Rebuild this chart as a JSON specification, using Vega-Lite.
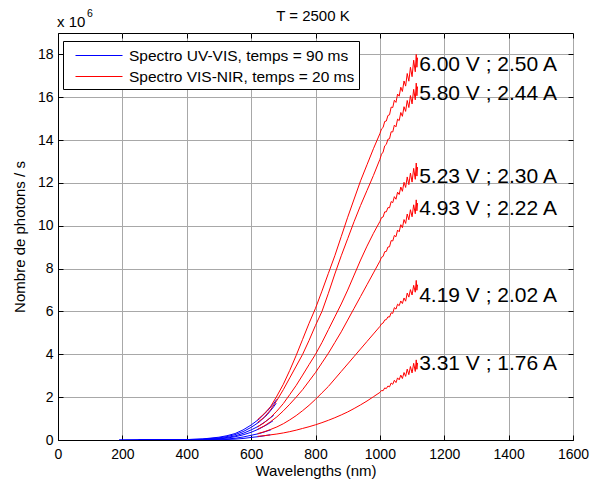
{
"$schema":"https://vega.github.io/schema/vega-lite/v6.json",
"width":515,"height":407,
"autosize":{"type":"none"},
"padding":{"left":58,"top":33,"right":17,"bottom":44},
"background":"white",
"config":{
"font":"Liberation Sans",
"view":{"stroke":"black","strokeWidth":1},
"axis":{"gridColor":"#a8a8a8","gridOpacity":1,"gridWidth":1,"domainColor":"black","tickColor":"black","labelColor":"black","titleColor":"black","labelFontSize":14,"titleFontSize":15,"titleFontWeight":"normal","labelFont":"Liberation Sans","titleFont":"Liberation Sans","tickSize":-5,"format":"d"},
"legend":{"strokeColor":"black","fillColor":"white","padding":4,"labelFontSize":15.5,"labelFont":"Liberation Sans","labelColor":"black","labelLimit":400,"symbolType":"M-1,0H3.7","symbolSize":400,"symbolStrokeWidth":1,"labelOffset":33,"rowPadding":2,"symbolOffset":8}
},
"resolve":{"axis":{"x":"independent","y":"independent"}},
"layer":[
{
"data":{"values":[
{"s":"U","c":"6.00","x":190,"y":0},{"s":"U","c":"6.00","x":250,"y":0.01},{"s":"U","c":"6.00","x":300,"y":0.01},{"s":"U","c":"6.00","x":350,"y":0.01},{"s":"U","c":"6.00","x":400,"y":0.02},{"s":"U","c":"6.00","x":450,"y":0.05},{"s":"U","c":"6.00","x":500,"y":0.13},{"s":"U","c":"6.00","x":525,"y":0.2},{"s":"U","c":"6.00","x":550,"y":0.3},{"s":"U","c":"6.00","x":575,"y":0.47},{"s":"U","c":"6.00","x":600,"y":0.7},{"s":"U","c":"6.00","x":625,"y":0.98},{"s":"U","c":"6.00","x":650,"y":1.35},{"s":"U","c":"6.00","x":670,"y":1.7},{"s":"U","c":"6.00","x":680,"y":1.9},
{"s":"U","c":"5.80","x":190,"y":0},{"s":"U","c":"5.80","x":250,"y":0.01},{"s":"U","c":"5.80","x":300,"y":0.01},{"s":"U","c":"5.80","x":350,"y":0.01},{"s":"U","c":"5.80","x":400,"y":0.02},{"s":"U","c":"5.80","x":450,"y":0.04},{"s":"U","c":"5.80","x":500,"y":0.1},{"s":"U","c":"5.80","x":525,"y":0.16},{"s":"U","c":"5.80","x":550,"y":0.25},{"s":"U","c":"5.80","x":575,"y":0.39},{"s":"U","c":"5.80","x":600,"y":0.59},{"s":"U","c":"5.80","x":625,"y":0.84},{"s":"U","c":"5.80","x":650,"y":1.18},{"s":"U","c":"5.80","x":670,"y":1.55},{"s":"U","c":"5.80","x":678,"y":1.72},
{"s":"U","c":"5.23","x":250,"y":0.01},{"s":"U","c":"5.23","x":300,"y":0.01},{"s":"U","c":"5.23","x":350,"y":0.01},{"s":"U","c":"5.23","x":400,"y":0.01},{"s":"U","c":"5.23","x":450,"y":0.03},{"s":"U","c":"5.23","x":500,"y":0.07},{"s":"U","c":"5.23","x":525,"y":0.12},{"s":"U","c":"5.23","x":550,"y":0.19},{"s":"U","c":"5.23","x":575,"y":0.31},{"s":"U","c":"5.23","x":600,"y":0.47},{"s":"U","c":"5.23","x":625,"y":0.66},{"s":"U","c":"5.23","x":650,"y":0.92},{"s":"U","c":"5.23","x":670,"y":1.15},
{"s":"U","c":"4.93","x":250,"y":0},{"s":"U","c":"4.93","x":300,"y":0.01},{"s":"U","c":"4.93","x":350,"y":0.01},{"s":"U","c":"4.93","x":400,"y":0.01},{"s":"U","c":"4.93","x":450,"y":0.02},{"s":"U","c":"4.93","x":500,"y":0.05},{"s":"U","c":"4.93","x":525,"y":0.09},{"s":"U","c":"4.93","x":550,"y":0.15},{"s":"U","c":"4.93","x":575,"y":0.24},{"s":"U","c":"4.93","x":600,"y":0.36},{"s":"U","c":"4.93","x":625,"y":0.52},{"s":"U","c":"4.93","x":650,"y":0.72},{"s":"U","c":"4.93","x":668,"y":0.9},
{"s":"U","c":"4.19","x":250,"y":0},{"s":"U","c":"4.19","x":300,"y":0},{"s":"U","c":"4.19","x":350,"y":0.01},{"s":"U","c":"4.19","x":400,"y":0.01},{"s":"U","c":"4.19","x":450,"y":0.01},{"s":"U","c":"4.19","x":500,"y":0.03},{"s":"U","c":"4.19","x":525,"y":0.05},{"s":"U","c":"4.19","x":550,"y":0.08},{"s":"U","c":"4.19","x":575,"y":0.14},{"s":"U","c":"4.19","x":600,"y":0.22},{"s":"U","c":"4.19","x":625,"y":0.3},{"s":"U","c":"4.19","x":650,"y":0.42},{"s":"U","c":"4.19","x":662,"y":0.48},
{"s":"U","c":"3.31","x":250,"y":0},{"s":"U","c":"3.31","x":300,"y":0},{"s":"U","c":"3.31","x":350,"y":0},{"s":"U","c":"3.31","x":400,"y":0},{"s":"U","c":"3.31","x":450,"y":0.01},{"s":"U","c":"3.31","x":500,"y":0.01},{"s":"U","c":"3.31","x":550,"y":0.04},{"s":"U","c":"3.31","x":575,"y":0.07},{"s":"U","c":"3.31","x":600,"y":0.12},{"s":"U","c":"3.31","x":625,"y":0.16},{"s":"U","c":"3.31","x":650,"y":0.22},{"s":"U","c":"3.31","x":660,"y":0.24},

{"s":"N","c":"6.00","x":620,"y":0.95},{"s":"N","c":"6.00","x":640,"y":1.22},{"s":"N","c":"6.00","x":660,"y":1.55},{"s":"N","c":"6.00","x":680,"y":2.05},{"s":"N","c":"6.00","x":700,"y":2.6},{"s":"N","c":"6.00","x":720,"y":3.25},{"s":"N","c":"6.00","x":740,"y":3.95},{"s":"N","c":"6.00","x":760,"y":4.7},{"s":"N","c":"6.00","x":780,"y":5.45},{"s":"N","c":"6.00","x":800,"y":6.15},{"s":"N","c":"6.00","x":820,"y":6.95},{"s":"N","c":"6.00","x":840,"y":7.78},{"s":"N","c":"6.00","x":860,"y":8.6},{"s":"N","c":"6.00","x":880,"y":9.5},{"s":"N","c":"6.00","x":900,"y":10.4},{"s":"N","c":"6.00","x":920,"y":11.25},{"s":"N","c":"6.00","x":940,"y":12.1},{"s":"N","c":"6.00","x":960,"y":12.85},{"s":"N","c":"6.00","x":980,"y":13.6},
{"s":"N","c":"6.00","x":1000,"y":14.3},{"s":"N","c":"6.00","x":1005,"y":14.52},{"s":"N","c":"6.00","x":1010,"y":14.59},{"s":"N","c":"6.00","x":1015,"y":14.87},{"s":"N","c":"6.00","x":1020,"y":14.89},{"s":"N","c":"6.00","x":1025,"y":15.15},{"s":"N","c":"6.00","x":1030,"y":15.18},{"s":"N","c":"6.00","x":1035,"y":15.54},{"s":"N","c":"6.00","x":1040,"y":15.52},{"s":"N","c":"6.00","x":1045,"y":15.86},{"s":"N","c":"6.00","x":1050,"y":15.76},{"s":"N","c":"6.00","x":1055,"y":16.15},{"s":"N","c":"6.00","x":1060,"y":16.05},{"s":"N","c":"6.00","x":1065,"y":16.47},{"s":"N","c":"6.00","x":1070,"y":16.27},{"s":"N","c":"6.00","x":1075,"y":16.76},{"s":"N","c":"6.00","x":1080,"y":16.52},{"s":"N","c":"6.00","x":1085,"y":17.11},{"s":"N","c":"6.00","x":1090,"y":16.75},{"s":"N","c":"6.00","x":1095,"y":17.4},{"s":"N","c":"6.00","x":1100,"y":16.96},{"s":"N","c":"6.00","x":1105,"y":17.73},{"s":"N","c":"6.00","x":1110,"y":17.19},{"s":"N","c":"6.00","x":1113,"y":18.0},{"s":"N","c":"6.00","x":1115,"y":17.4},{"s":"N","c":"6.00","x":1117,"y":17.85},

{"s":"N","c":"5.80","x":620,"y":0.82},{"s":"N","c":"5.80","x":640,"y":1.05},{"s":"N","c":"5.80","x":660,"y":1.4},{"s":"N","c":"5.80","x":680,"y":1.85},{"s":"N","c":"5.80","x":700,"y":2.35},{"s":"N","c":"5.80","x":720,"y":2.9},{"s":"N","c":"5.80","x":740,"y":3.45},{"s":"N","c":"5.80","x":760,"y":4.0},{"s":"N","c":"5.80","x":780,"y":4.65},{"s":"N","c":"5.80","x":800,"y":5.35},{"s":"N","c":"5.80","x":820,"y":6.0},{"s":"N","c":"5.80","x":840,"y":6.85},{"s":"N","c":"5.80","x":860,"y":7.75},{"s":"N","c":"5.80","x":880,"y":8.6},{"s":"N","c":"5.80","x":900,"y":9.4},{"s":"N","c":"5.80","x":920,"y":10.2},{"s":"N","c":"5.80","x":940,"y":10.95},{"s":"N","c":"5.80","x":960,"y":11.65},{"s":"N","c":"5.80","x":980,"y":12.35},
{"s":"N","c":"5.80","x":1000,"y":13.1},{"s":"N","c":"5.80","x":1005,"y":13.34},{"s":"N","c":"5.80","x":1010,"y":13.44},{"s":"N","c":"5.80","x":1015,"y":13.73},{"s":"N","c":"5.80","x":1020,"y":13.8},{"s":"N","c":"5.80","x":1025,"y":14.04},{"s":"N","c":"5.80","x":1030,"y":14.06},{"s":"N","c":"5.80","x":1035,"y":14.39},{"s":"N","c":"5.80","x":1040,"y":14.38},{"s":"N","c":"5.80","x":1045,"y":14.7},{"s":"N","c":"5.80","x":1050,"y":14.62},{"s":"N","c":"5.80","x":1055,"y":14.98},{"s":"N","c":"5.80","x":1060,"y":14.91},{"s":"N","c":"5.80","x":1065,"y":15.29},{"s":"N","c":"5.80","x":1070,"y":15.11},{"s":"N","c":"5.80","x":1075,"y":15.56},{"s":"N","c":"5.80","x":1080,"y":15.34},{"s":"N","c":"5.80","x":1085,"y":15.85},{"s":"N","c":"5.80","x":1090,"y":15.52},{"s":"N","c":"5.80","x":1095,"y":16.08},{"s":"N","c":"5.80","x":1100,"y":15.69},{"s":"N","c":"5.80","x":1105,"y":16.37},{"s":"N","c":"5.80","x":1110,"y":15.88},{"s":"N","c":"5.80","x":1113,"y":16.66},{"s":"N","c":"5.80","x":1115,"y":16.07},{"s":"N","c":"5.80","x":1117,"y":16.5},

{"s":"N","c":"5.23","x":620,"y":0.62},{"s":"N","c":"5.23","x":640,"y":0.8},{"s":"N","c":"5.23","x":660,"y":1.05},{"s":"N","c":"5.23","x":680,"y":1.35},{"s":"N","c":"5.23","x":700,"y":1.7},{"s":"N","c":"5.23","x":720,"y":2.12},{"s":"N","c":"5.23","x":740,"y":2.55},{"s":"N","c":"5.23","x":760,"y":3.03},{"s":"N","c":"5.23","x":780,"y":3.52},{"s":"N","c":"5.23","x":800,"y":4.0},{"s":"N","c":"5.23","x":820,"y":4.55},{"s":"N","c":"5.23","x":840,"y":5.15},{"s":"N","c":"5.23","x":860,"y":5.75},{"s":"N","c":"5.23","x":880,"y":6.35},{"s":"N","c":"5.23","x":900,"y":7.0},{"s":"N","c":"5.23","x":920,"y":7.7},{"s":"N","c":"5.23","x":940,"y":8.4},{"s":"N","c":"5.23","x":960,"y":9.05},{"s":"N","c":"5.23","x":980,"y":9.65},
{"s":"N","c":"5.23","x":1000,"y":10.2},{"s":"N","c":"5.23","x":1005,"y":10.38},{"s":"N","c":"5.23","x":1010,"y":10.41},{"s":"N","c":"5.23","x":1015,"y":10.65},{"s":"N","c":"5.23","x":1020,"y":10.65},{"s":"N","c":"5.23","x":1025,"y":10.85},{"s":"N","c":"5.23","x":1030,"y":10.84},{"s":"N","c":"5.23","x":1035,"y":11.13},{"s":"N","c":"5.23","x":1040,"y":11.08},{"s":"N","c":"5.23","x":1045,"y":11.36},{"s":"N","c":"5.23","x":1050,"y":11.24},{"s":"N","c":"5.23","x":1055,"y":11.57},{"s":"N","c":"5.23","x":1060,"y":11.46},{"s":"N","c":"5.23","x":1065,"y":11.81},{"s":"N","c":"5.23","x":1070,"y":11.61},{"s":"N","c":"5.23","x":1075,"y":12.03},{"s":"N","c":"5.23","x":1080,"y":11.79},{"s":"N","c":"5.23","x":1085,"y":12.28},{"s":"N","c":"5.23","x":1090,"y":11.92},{"s":"N","c":"5.23","x":1095,"y":12.46},{"s":"N","c":"5.23","x":1100,"y":12.04},{"s":"N","c":"5.23","x":1105,"y":12.68},{"s":"N","c":"5.23","x":1110,"y":12.17},{"s":"N","c":"5.23","x":1113,"y":12.93},{"s":"N","c":"5.23","x":1115,"y":12.32},{"s":"N","c":"5.23","x":1117,"y":12.74},

{"s":"N","c":"4.93","x":620,"y":0.5},{"s":"N","c":"4.93","x":640,"y":0.65},{"s":"N","c":"4.93","x":660,"y":0.85},{"s":"N","c":"4.93","x":680,"y":1.08},{"s":"N","c":"4.93","x":700,"y":1.36},{"s":"N","c":"4.93","x":720,"y":1.67},{"s":"N","c":"4.93","x":740,"y":2.0},{"s":"N","c":"4.93","x":760,"y":2.35},{"s":"N","c":"4.93","x":780,"y":2.75},{"s":"N","c":"4.93","x":800,"y":3.15},{"s":"N","c":"4.93","x":820,"y":3.6},{"s":"N","c":"4.93","x":840,"y":4.05},{"s":"N","c":"4.93","x":860,"y":4.55},{"s":"N","c":"4.93","x":880,"y":5.05},{"s":"N","c":"4.93","x":900,"y":5.6},{"s":"N","c":"4.93","x":920,"y":6.15},{"s":"N","c":"4.93","x":940,"y":6.7},{"s":"N","c":"4.93","x":960,"y":7.25},{"s":"N","c":"4.93","x":980,"y":7.8},
{"s":"N","c":"4.93","x":1000,"y":8.35},{"s":"N","c":"4.93","x":1005,"y":8.53},{"s":"N","c":"4.93","x":1010,"y":8.57},{"s":"N","c":"4.93","x":1015,"y":8.79},{"s":"N","c":"4.93","x":1020,"y":8.8},{"s":"N","c":"4.93","x":1025,"y":9.01},{"s":"N","c":"4.93","x":1030,"y":9.02},{"s":"N","c":"4.93","x":1035,"y":9.31},{"s":"N","c":"4.93","x":1040,"y":9.29},{"s":"N","c":"4.93","x":1045,"y":9.55},{"s":"N","c":"4.93","x":1050,"y":9.49},{"s":"N","c":"4.93","x":1055,"y":9.8},{"s":"N","c":"4.93","x":1060,"y":9.72},{"s":"N","c":"4.93","x":1065,"y":10.05},{"s":"N","c":"4.93","x":1070,"y":9.91},{"s":"N","c":"4.93","x":1075,"y":10.29},{"s":"N","c":"4.93","x":1080,"y":10.11},{"s":"N","c":"4.93","x":1085,"y":10.55},{"s":"N","c":"4.93","x":1090,"y":10.28},{"s":"N","c":"4.93","x":1095,"y":10.75},{"s":"N","c":"4.93","x":1100,"y":10.42},{"s":"N","c":"4.93","x":1105,"y":10.98},{"s":"N","c":"4.93","x":1110,"y":10.56},{"s":"N","c":"4.93","x":1113,"y":11.21},{"s":"N","c":"4.93","x":1115,"y":10.7},{"s":"N","c":"4.93","x":1117,"y":11.06},

{"s":"N","c":"4.19","x":620,"y":0.3},{"s":"N","c":"4.19","x":640,"y":0.38},{"s":"N","c":"4.19","x":660,"y":0.49},{"s":"N","c":"4.19","x":680,"y":0.61},{"s":"N","c":"4.19","x":700,"y":0.76},{"s":"N","c":"4.19","x":720,"y":0.94},{"s":"N","c":"4.19","x":740,"y":1.14},{"s":"N","c":"4.19","x":760,"y":1.37},{"s":"N","c":"4.19","x":780,"y":1.62},{"s":"N","c":"4.19","x":800,"y":1.9},{"s":"N","c":"4.19","x":820,"y":2.2},{"s":"N","c":"4.19","x":840,"y":2.5},{"s":"N","c":"4.19","x":860,"y":2.85},{"s":"N","c":"4.19","x":880,"y":3.2},{"s":"N","c":"4.19","x":900,"y":3.55},{"s":"N","c":"4.19","x":920,"y":3.9},{"s":"N","c":"4.19","x":940,"y":4.25},{"s":"N","c":"4.19","x":960,"y":4.6},{"s":"N","c":"4.19","x":980,"y":4.95},
{"s":"N","c":"4.19","x":1000,"y":5.3},{"s":"N","c":"4.19","x":1005,"y":5.42},{"s":"N","c":"4.19","x":1010,"y":5.46},{"s":"N","c":"4.19","x":1015,"y":5.6},{"s":"N","c":"4.19","x":1020,"y":5.62},{"s":"N","c":"4.19","x":1025,"y":5.75},{"s":"N","c":"4.19","x":1030,"y":5.74},{"s":"N","c":"4.19","x":1035,"y":5.94},{"s":"N","c":"4.19","x":1040,"y":5.91},{"s":"N","c":"4.19","x":1045,"y":6.18},{"s":"N","c":"4.19","x":1050,"y":6.11},{"s":"N","c":"4.19","x":1055,"y":6.34},{"s":"N","c":"4.19","x":1060,"y":6.27},{"s":"N","c":"4.19","x":1065,"y":6.49},{"s":"N","c":"4.19","x":1070,"y":6.37},{"s":"N","c":"4.19","x":1075,"y":6.63},{"s":"N","c":"4.19","x":1080,"y":6.48},{"s":"N","c":"4.19","x":1085,"y":6.86},{"s":"N","c":"4.19","x":1090,"y":6.67},{"s":"N","c":"4.19","x":1095,"y":7.02},{"s":"N","c":"4.19","x":1100,"y":6.77},{"s":"N","c":"4.19","x":1105,"y":7.22},{"s":"N","c":"4.19","x":1110,"y":6.9},{"s":"N","c":"4.19","x":1113,"y":7.45},{"s":"N","c":"4.19","x":1115,"y":6.99},{"s":"N","c":"4.19","x":1117,"y":7.25},

{"s":"N","c":"3.31","x":620,"y":0.17},{"s":"N","c":"3.31","x":640,"y":0.2},{"s":"N","c":"3.31","x":660,"y":0.24},{"s":"N","c":"3.31","x":680,"y":0.28},{"s":"N","c":"3.31","x":700,"y":0.33},{"s":"N","c":"3.31","x":720,"y":0.39},{"s":"N","c":"3.31","x":740,"y":0.46},{"s":"N","c":"3.31","x":760,"y":0.54},{"s":"N","c":"3.31","x":780,"y":0.62},{"s":"N","c":"3.31","x":800,"y":0.71},{"s":"N","c":"3.31","x":820,"y":0.81},{"s":"N","c":"3.31","x":840,"y":0.92},{"s":"N","c":"3.31","x":860,"y":1.04},{"s":"N","c":"3.31","x":880,"y":1.17},{"s":"N","c":"3.31","x":900,"y":1.31},{"s":"N","c":"3.31","x":920,"y":1.47},{"s":"N","c":"3.31","x":940,"y":1.64},{"s":"N","c":"3.31","x":960,"y":1.82},{"s":"N","c":"3.31","x":980,"y":2.02},
{"s":"N","c":"3.31","x":1000,"y":2.22},{"s":"N","c":"3.31","x":1005,"y":2.31},{"s":"N","c":"3.31","x":1010,"y":2.3},{"s":"N","c":"3.31","x":1015,"y":2.43},{"s":"N","c":"3.31","x":1020,"y":2.4},{"s":"N","c":"3.31","x":1025,"y":2.52},{"s":"N","c":"3.31","x":1030,"y":2.48},{"s":"N","c":"3.31","x":1035,"y":2.66},{"s":"N","c":"3.31","x":1040,"y":2.6},{"s":"N","c":"3.31","x":1045,"y":2.79},{"s":"N","c":"3.31","x":1050,"y":2.68},{"s":"N","c":"3.31","x":1055,"y":2.9},{"s":"N","c":"3.31","x":1060,"y":2.81},{"s":"N","c":"3.31","x":1065,"y":3.03},{"s":"N","c":"3.31","x":1070,"y":2.87},{"s":"N","c":"3.31","x":1075,"y":3.15},{"s":"N","c":"3.31","x":1080,"y":2.97},{"s":"N","c":"3.31","x":1085,"y":3.31},{"s":"N","c":"3.31","x":1090,"y":3.05},{"s":"N","c":"3.31","x":1095,"y":3.43},{"s":"N","c":"3.31","x":1100,"y":3.13},{"s":"N","c":"3.31","x":1105,"y":3.58},{"s":"N","c":"3.31","x":1110,"y":3.2},{"s":"N","c":"3.31","x":1113,"y":3.74},{"s":"N","c":"3.31","x":1115,"y":3.3},{"s":"N","c":"3.31","x":1117,"y":3.6}
]},
"mark":{"type":"line","strokeWidth":1,"clip":true},
"encoding":{
"x":{"field":"x","type":"quantitative","scale":{"domain":[0,1600],"nice":false,"zero":false},"axis":{"values":[0,200,400,600,800,1000,1200,1400,1600],"title":"Wavelengths (nm)","labelPadding":12,"titlePadding":2,"labelFlush":false}},
"y":{"field":"y","type":"quantitative","scale":{"domain":[0,19],"nice":false},"axis":{"values":[0,2,4,6,8,10,12,14,16,18],"title":"Nombre de photons / s","labelPadding":10,"titlePadding":10,"labelFlush":false}},
"color":{"field":"s","type":"nominal","scale":{"domain":["U","N"],"range":["#0000ff","#ff0000"]},"legend":{"orient":"none","legendX":5,"legendY":8,"title":null,"labelExpr":"datum.value == 'U' ? 'Spectro UV-VIS, temps = 90 ms' : 'Spectro VIS-NIR, temps = 20 ms'"}},
"detail":{"field":"c","type":"nominal"}
}
},
{
"data":{"values":[
{"t":"6.00 V ; 2.50 A","x":1122,"y":17.5},
{"t":"5.80 V ; 2.44 A","x":1122,"y":16.15},
{"t":"5.23 V ; 2.30 A","x":1122,"y":12.26},
{"t":"4.93 V ; 2.22 A","x":1122,"y":10.8},
{"t":"4.19 V ; 2.02 A","x":1122,"y":6.74},
{"t":"3.31 V ; 1.76 A","x":1122,"y":3.55}
]},
"mark":{"type":"text","align":"left","baseline":"middle","fontSize":21,"font":"Liberation Sans","color":"black"},
"encoding":{
"x":{"field":"x","type":"quantitative","axis":{"orient":"top","labels":false,"grid":false,"domain":false,"title":null,"values":[0,200,400,600,800,1000,1200,1400,1600]}},
"y":{"field":"y","type":"quantitative","axis":{"orient":"right","labels":false,"grid":false,"domain":false,"title":null,"values":[0,2,4,6,8,10,12,14,16,18]}},
"text":{"field":"t"}
}
},
{
"data":{"values":[{"t":"x 10","x":0,"y":19}]},
"mark":{"type":"text","align":"left","baseline":"alphabetic","fontSize":15,"font":"Liberation Sans","color":"black","dx":-1,"dy":-6},
"encoding":{"x":{"field":"x","type":"quantitative","axis":null},"y":{"field":"y","type":"quantitative","axis":null},"text":{"field":"t"}}
},
{
"data":{"values":[{"t":"6","x":0,"y":19}]},
"mark":{"type":"text","align":"left","baseline":"alphabetic","fontSize":10.5,"font":"Liberation Sans","color":"black","dx":29,"dy":-16},
"encoding":{"x":{"field":"x","type":"quantitative","axis":null},"y":{"field":"y","type":"quantitative","axis":null},"text":{"field":"t"}}
},
{
"data":{"values":[{"t":"T = 2500 K","x":792,"y":19}]},
"mark":{"type":"text","align":"center","baseline":"alphabetic","fontSize":15,"font":"Liberation Sans","color":"black","dy":-12},
"encoding":{"x":{"field":"x","type":"quantitative","axis":null},"y":{"field":"y","type":"quantitative","axis":null},"text":{"field":"t"}}
}
]
}
